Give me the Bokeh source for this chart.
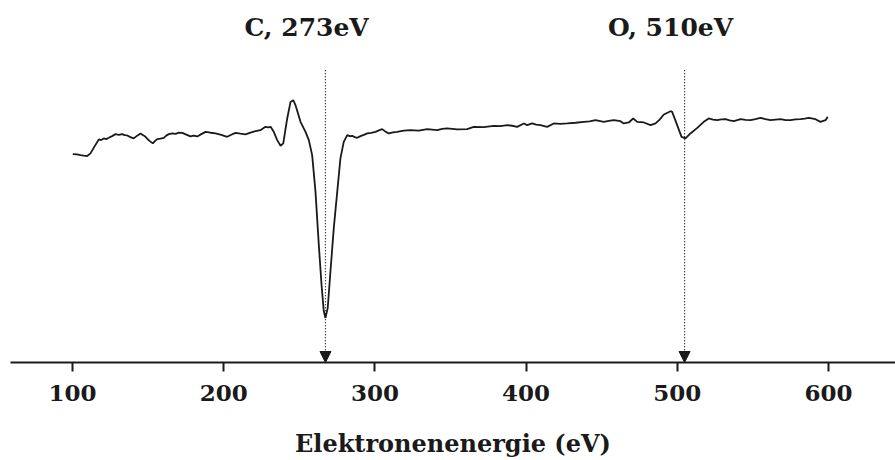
from bokeh.plotting import figure
from bokeh.models import Range1d, FixedTicker, Arrow, NormalHead, Label
from bokeh.embed import file_html
from bokeh.resources import INLINE

# Auger spectrum dN/dE (arbitrary units) versus electron energy (eV)
energy = [100.2, 103.0, 105.3, 107.5, 109.7, 111.9, 114.5, 117.4, 119.0, 120.7, 122.3, 124.0,
          126.2, 128.4, 130.6, 132.9, 134.5, 136.2, 138.3, 140.5, 142.8, 145.0, 146.7, 148.3,
          150.7, 153.1, 154.5, 156.0, 158.2, 160.4, 162.0, 163.7, 166.0, 168.2, 170.4, 172.6,
          175.3, 178.0, 180.2, 182.5, 185.2, 188.0, 191.3, 194.6, 198.4, 202.3, 205.0, 207.8,
          211.1, 214.4, 217.7, 221.0, 224.3, 227.6, 229.3, 231.0, 233.1, 235.4, 237.6, 239.4,
          242.0, 244.2, 246.0, 247.5, 250.8, 254.1, 256.3, 258.5, 260.7, 262.9, 264.7, 266.2,
          267.3, 268.8, 270.6, 272.8, 275.1, 277.2, 279.4, 281.7, 283.3, 285.0, 286.6, 288.3,
          290.5, 292.7, 294.9, 297.6, 300.4, 302.6, 304.8, 307.0, 309.2, 312.0, 314.7, 319.1,
          323.5, 329.0, 334.6, 337.9, 341.2, 344.5, 347.8, 354.4, 361.0, 365.4, 372.0, 378.6,
          383.0, 387.5, 390.8, 394.1, 398.5, 400.7, 404.0, 406.7, 409.5, 413.9, 418.3, 422.7,
          427.2, 432.7, 438.2, 442.0, 445.9, 451.4, 454.7, 458.0, 462.4, 464.6, 467.9, 470.8,
          473.5, 477.9, 482.3, 485.6, 488.3, 491.1, 495.5, 496.6, 499.9, 502.8, 505.4, 508.7,
          513.2, 517.5, 520.8, 523.6, 526.4, 529.1, 531.9, 534.6, 537.4, 541.8, 545.1, 548.4,
          551.7, 555.0, 558.3, 561.6, 565.0, 568.3, 571.6, 574.9, 578.2, 581.5, 584.2, 587.0,
          591.4, 594.7, 598.0, 599.5]
signal = [209.0, 208.7, 208.0, 207.4, 207.0, 209.7, 216.5, 223.7, 223.0, 224.7, 224.0, 225.3,
          227.0, 229.0, 228.3, 229.0, 228.0, 227.7, 226.0, 224.7, 227.5, 229.7, 228.0, 226.3,
          222.5, 219.7, 222.0, 224.0, 224.5, 225.3, 227.5, 229.0, 229.8, 229.2, 230.5, 230.3,
          228.5, 226.7, 227.4, 226.7, 229.0, 231.3, 230.4, 229.7, 228.2, 226.3, 228.4, 230.3,
          229.4, 228.7, 230.6, 232.0, 233.0, 236.3, 235.8, 236.3, 231.3, 223.0, 217.3, 219.7,
          244.7, 261.3, 263.0, 258.0, 241.3, 231.3, 223.0, 208.0, 171.3, 118.0, 78.0, 51.3,
          44.7, 54.7, 91.3, 134.7, 171.3, 204.7, 221.3, 228.0, 227.0, 227.3, 226.0, 225.3,
          227.0, 228.2, 229.7, 230.2, 231.3, 232.8, 234.0, 231.5, 229.7, 230.8, 231.3, 232.5,
          233.0, 232.6, 234.0, 233.5, 233.0, 234.2, 234.7, 233.8, 234.0, 236.3, 236.0, 237.3,
          237.0, 238.0, 237.4, 236.3, 239.7, 238.0, 239.7, 238.6, 238.0, 236.3, 239.7, 239.2,
          239.7, 240.4, 241.3, 241.8, 243.0, 241.3, 242.2, 243.0, 242.0, 239.7, 240.7, 244.7,
          241.3, 240.7, 238.0, 239.7, 243.5, 248.7, 252.0, 251.3, 238.0, 226.3, 224.7, 229.7,
          235.3, 241.3, 244.7, 243.6, 243.0, 243.8, 244.0, 242.8, 242.0, 244.0, 243.2, 243.0,
          244.1, 245.3, 244.0, 243.0, 243.6, 244.0, 243.1, 243.0, 243.8, 244.0, 244.6, 245.3,
          244.0, 241.3, 243.0, 246.3]

# Peak markers: element, Auger energy text, marker position on the energy axis
peak_names = ["C, 273eV", "O, 510eV"]
marker_ev = [267.3, 504.8]
label_ev = [254.8, 495.5]

tick_values = [100, 200, 300, 400, 500, 600]
x_title = "Elektronenenergie (eV)"

ink = "#1a1a1a"
serif = "DejaVu Serif"

p = figure(width=895, height=460, output_backend="svg", toolbar_location=None,
           x_range=Range1d(59.0, 644.3), y_range=Range1d(0, 363),
           y_axis_location=None,
           min_border_left=10, min_border_right=0, min_border_top=0, min_border_bottom=97)
p.outline_line_color = None
p.grid.visible = False
p.background_fill_color = "white"
p.border_fill_color = "white"

p.line(energy, signal, line_color=ink, line_width=1.8)

for ev in marker_ev:
    p.add_layout(Arrow(end=NormalHead(size=11, fill_color=ink, line_color=ink, line_width=1),
                       x_start=ev, y_start=293, x_end=ev, y_end=0,
                       line_color="#000000", line_width=1.2, line_dash="1 2"))

for name, lx in zip(peak_names, label_ev):
    p.add_layout(Label(x=lx, y=336, text=name, text_align="center", text_baseline="middle",
                       text_font=serif, text_font_style="bold", text_font_size="25px",
                       text_color=ink))

ax = p.xaxis[0]
ax.ticker = FixedTicker(ticks=tick_values)
ax.axis_line_color = ink
ax.axis_line_width = 2
ax.major_tick_line_color = ink
ax.major_tick_line_width = 2
ax.major_tick_in = 0
ax.major_tick_out = 9
ax.minor_tick_line_color = None
ax.major_label_standoff = 13
ax.major_label_text_font = serif
ax.major_label_text_font_style = "bold"
ax.major_label_text_font_size = "23px"
ax.major_label_text_color = ink
ax.axis_label = x_title
ax.axis_label_text_font = serif
ax.axis_label_text_font_style = "bold"
ax.axis_label_text_font_size = "24px"
ax.axis_label_text_color = ink
ax.axis_label_standoff = 25

open("out.html", "w").write(file_html(p, INLINE))
